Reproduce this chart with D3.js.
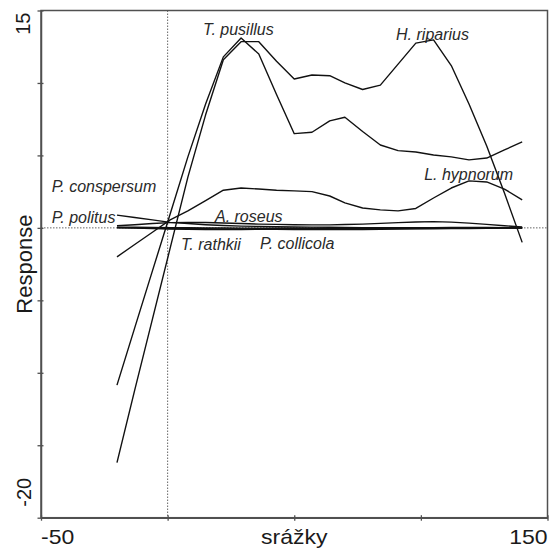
<!DOCTYPE html>
<html>
<head>
<meta charset="utf-8">
<script src="https://cdn.jsdelivr.net/npm/d3@7"></script>
<style>
  body { margin: 0; background: #fff; }
  svg { display: block; }
</style>
</head>
<body>
<script>
// Precipitation gradient (srážky) at which the fitted responses were evaluated
const precip = [-20, -13, -6, 1, 8, 15, 22, 29, 36, 43, 50, 57, 64, 70, 77, 84, 91, 98, 105, 112, 119, 126, 133, 140];

// Fitted species responses along the gradient
const tPusillus  = [-10.85, -6.9, -2.97, 0.96, 4.9, 8.55, 11.8, 13.1, 12.0, 9.2, 6.5, 6.6, 7.38, 7.63, 6.65, 5.72, 5.33, 5.24, 5.03, 4.9, 4.69, 4.82, 5.38, 5.93];
const hRiparius  = [-16.2, -11.2, -6.3, -1.4, 3.5, 7.8, 11.6, 12.85, 12.85, 11.5, 10.27, 10.55, 10.5, 10.0, 9.55, 9.85, 11.3, 12.75, 12.97, 11.2, 8.55, 5.65, 2.4, -1.0];
const lHypnorum  = [-2.0, -1.15, -0.3, 0.55, 1.17, 1.88, 2.6, 2.75, 2.68, 2.6, 2.55, 2.5, 2.2, 1.72, 1.37, 1.24, 1.17, 1.34, 2.06, 2.75, 3.24, 3.17, 2.68, 1.93];
const pPolitus   = [0.88, 0.72, 0.55, 0.38, 0.3, 0.22, 0.16, 0.12, 0.1, 0.08, 0.06, 0.05, 0.04, 0.03, 0.02, 0.02, 0.02, 0.01, 0.01, 0.01, 0.01, 0.0, 0.0, 0.0];
const aRoseus    = [0.15, 0.22, 0.3, 0.36, 0.38, 0.37, 0.34, 0.3, 0.26, 0.24, 0.22, 0.21, 0.21, 0.23, 0.26, 0.31, 0.36, 0.41, 0.43, 0.4, 0.33, 0.24, 0.15, 0.06];
const tRathkii   = [0.0, -0.02, -0.05, -0.08, -0.1, -0.12, -0.12, -0.11, -0.1, -0.08, -0.07, -0.06, -0.05, -0.05, -0.05, -0.05, -0.04, -0.04, -0.03, -0.03, -0.02, -0.02, -0.01, 0.0];
const pCollicola = [0.02, 0.0, -0.02, -0.04, -0.05, -0.06, -0.07, -0.08, -0.09, -0.1, -0.11, -0.12, -0.12, -0.12, -0.11, -0.1, -0.08, -0.07, -0.06, -0.05, -0.04, -0.03, -0.02, -0.01];
const pConspersum = [0.05, 0.04, 0.03, 0.02, 0.01, 0.0, -0.01, -0.02, -0.03, -0.03, -0.03, -0.02, -0.02, -0.01, -0.01, 0.0, 0.0, 0.01, 0.02, 0.03, 0.03, 0.03, 0.02, 0.01];

const seriesNames = ["T. pusillus", "H. riparius", "L. hypnorum", "P. politus", "A. roseus", "T. rathkii", "P. collicola", "P. conspersum"];
const seriesValues = [tPusillus, hRiparius, lHypnorum, pPolitus, aRoseus, tRathkii, pCollicola, pConspersum];

// Species name placement, in gradient / response units
const labelX = [14.0, 90.2, 101.3, -45.8, 18.7, 5.3, 36.5, -45.8];
const labelY = [13.3, 12.97, 3.3, 0.32, 0.43, -1.53, -1.47, 2.48];

// Axes
const xDomain = [-50, 150];
const yDomain = [-20, 15];
const xTicks = [-50, 0, 50, 100, 150];
const yTicks = [-20, -15, -10, -5, 0, 5, 10, 15];
const xTitle = "srážky";
const yTitle = "Response";

const W = 549, H = 553;
const plotL = 41, plotR = 547.5, plotT = 10.5, plotB = 517.7;

const x = d3.scaleLinear().domain(xDomain).range([plotL, plotR]);
const y = d3.scaleLinear().domain(yDomain).range([plotB, plotT]);

const svg = d3.select("body").append("svg")
  .attr("width", W).attr("height", H)
  .style("font-family", "'Liberation Sans', Arial, sans-serif");

// Reference lines through the origin
svg.append("line")
  .attr("x1", x(0)).attr("x2", x(0)).attr("y1", y(yDomain[1])).attr("y2", y(yDomain[0]))
  .attr("stroke", "#555").attr("stroke-width", 0.9).attr("stroke-dasharray", "1.5,1.5");
svg.append("line")
  .attr("x1", x(xDomain[0])).attr("x2", x(xDomain[1])).attr("y1", y(0)).attr("y2", y(0))
  .attr("stroke", "#555").attr("stroke-width", 0.9).attr("stroke-dasharray", "1.5,1.5");

// Response curves
const line = d3.line().x((d, i) => x(precip[i])).y(d => y(d));
svg.append("g").selectAll("path")
  .data(seriesValues)
  .join("path")
  .attr("d", d => line(d))
  .attr("fill", "none")
  .attr("stroke", "#111")
  .attr("stroke-width", 1.4)
  .attr("stroke-linejoin", "round");

// Frame
svg.append("rect")
  .attr("x", plotL).attr("y", plotT).attr("width", plotR - plotL).attr("height", plotB - plotT)
  .attr("fill", "none").attr("stroke", "#505050").attr("stroke-width", 1.5);

// Axes with ticks crossing the frame
const xAxis = svg.append("g").attr("transform", `translate(0,${plotB})`)
  .call(d3.axisBottom(x).tickValues(xTicks).tickFormat("").tickSizeOuter(0));
const yAxis = svg.append("g").attr("transform", `translate(${plotL},0)`)
  .call(d3.axisLeft(y).tickValues(yTicks).tickFormat("").tickSizeOuter(0));
[xAxis, yAxis].forEach(g => {
  g.select(".domain").attr("stroke", "#505050").attr("stroke-width", 1.5);
  g.selectAll(".tick line").attr("stroke", "#505050").attr("stroke-width", 1.3);
});
xAxis.selectAll(".tick line").attr("y1", -2.5).attr("y2", 3);
yAxis.selectAll(".tick line").attr("x1", 2.5).attr("x2", -3.5);

// Axis end labels and titles
const axisFont = 20;
function hText(txt, px, py, anchor) {
  svg.append("text")
    .attr("transform", `translate(${px},${py}) scale(1.15,1)`)
    .attr("text-anchor", anchor)
    .attr("font-size", axisFont)
    .attr("fill", "#1a1a1a")
    .text(txt);
}
hText(String(xDomain[0]), x(xDomain[0]), 544, "start");
hText(String(xDomain[1]), x(xDomain[1]), 544, "end");
hText(xTitle, (plotL + plotR) / 2, 544, "middle");

function vText(txt, px, py, anchor, size) {
  svg.append("text")
    .attr("transform", `translate(${px},${py}) rotate(-90)`)
    .attr("text-anchor", anchor)
    .attr("font-size", size)
    .attr("fill", "#1a1a1a")
    .text(txt);
}
vText(String(yDomain[1]), 29.5, y(yDomain[1]) + 2, "end", axisFont);
vText(String(yDomain[0]), 30.5, y(yDomain[0]) - 11, "start", axisFont);
vText(yTitle, 32, (plotT + plotB) / 2, "middle", 22);

// Species names
svg.append("g").selectAll("text")
  .data(seriesNames)
  .join("text")
  .attr("x", (d, i) => x(labelX[i]))
  .attr("y", (d, i) => y(labelY[i]))
  .attr("font-size", 16)
  .attr("font-style", "italic")
  .attr("fill", "#2a2a2a")
  .text(d => d);
</script>
</body>
</html>
